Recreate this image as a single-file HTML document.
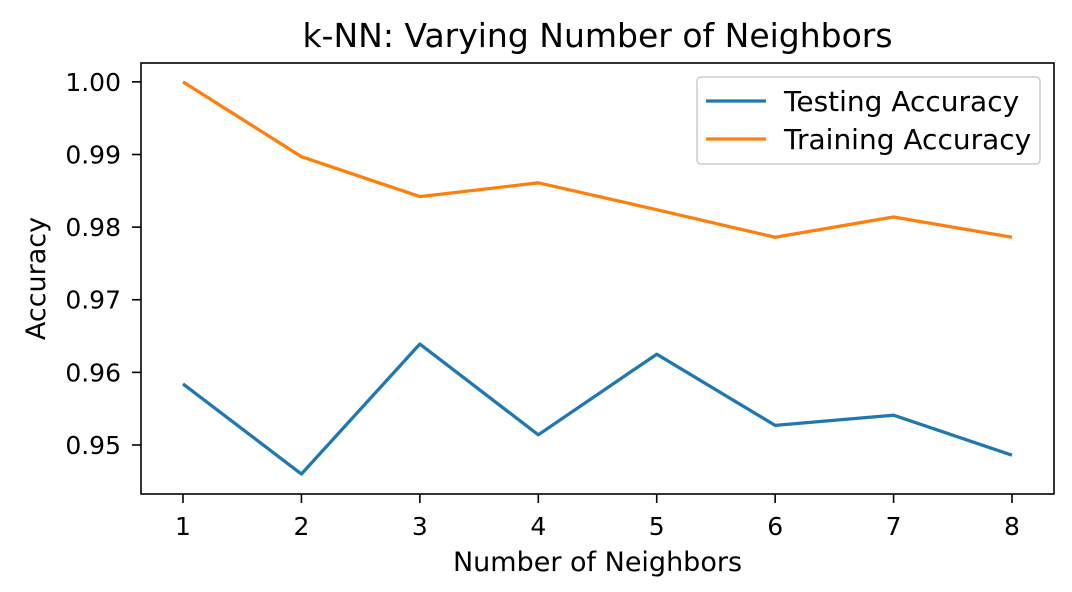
<!DOCTYPE html>
<html><head><meta charset="utf-8"><style>
html,body{margin:0;padding:0;background:#fff;}
svg{display:block;font-family:"DejaVu Sans","Liberation Sans",sans-serif;}
</style></head><body>
<svg id="chart" width="1072" height="592" viewBox="0 0 1072 592"></svg>
<script>
const categories = [1,2,3,4,5,6,7,8];
const testingAccuracy = [0.9584,0.9460,0.9639,0.9514,0.9625,0.9527,0.9541,0.9486];
const trainingAccuracy = [1.0000,0.9897,0.9842,0.9861,0.9824,0.9786,0.9814,0.9786];
const yTicks = [0.95,0.96,0.97,0.98,0.99,1.00];
const yTickLabels = ["0.95","0.96","0.97","0.98","0.99","1.00"];

const NS="http://www.w3.org/2000/svg";
const svg=document.getElementById('chart');
const L=141,R=1054,T=63,B=494;
const yMin=0.94325,yMax=1.0026;
const x=v=>183+(v-1)*(1012-183)/7;
const y=v=>B-(v-yMin)/(yMax-yMin)*(B-T);
function mk(tag,attrs,parent){const e=document.createElementNS(NS,tag);for(const k in attrs)e.setAttribute(k,attrs[k]);(parent||svg).appendChild(e);return e;}

const title=mk('text',{x:(L+R)/2,y:47,'text-anchor':'middle','font-size':33,fill:'#000'});
title.textContent='k-NN: Varying Number of Neighbors';



categories.forEach(c=>{
  const t=mk('line',{x1:x(c),x2:x(c),y1:B,y2:B+9,stroke:'#000','stroke-width':1.6});
  
  
  const l=mk('text',{x:x(c),y:535,'text-anchor':'middle','font-size':25});
  l.textContent=c;
  
  
});
yTicks.forEach((v,i)=>{
  const t=mk('line',{x1:L-9,x2:L,y1:y(v),y2:y(v),stroke:'#000','stroke-width':1.6});
  
  
  const l=mk('text',{x:L-20,y:y(v)+9,'text-anchor':'end','font-size':25});
  l.textContent=yTickLabels[i];
  
  
});
const xt=mk('text',{x:(L+R)/2,y:571,'text-anchor':'middle','font-size':27});
xt.textContent='Number of Neighbors';


const yt=mk('text',{x:0,y:0,'text-anchor':'middle','font-size':27,transform:`translate(45,${(T+B)/2}) rotate(-90)`});
yt.textContent='Accuracy';



function series(vals,color,name){
  const p=mk('polyline',{points:categories.map((c,i)=>x(c)+','+y(vals[i])).join(' '),fill:'none',stroke:color,'stroke-width':3.3,'stroke-linejoin':'round'});
  
  
}
series(testingAccuracy,'#1f77b4','testing-accuracy-line');
series(trainingAccuracy,'#ff7f0e','training-accuracy-line');

const frame=mk('rect',{x:L,y:T,width:R-L,height:B-T,fill:'none',stroke:'#000','stroke-width':1.6});



const lg=mk('g',{});


mk('rect',{x:697,y:77,width:343,height:87,rx:4,fill:'#fff','fill-opacity':0.8,stroke:'#ccc','stroke-width':1.5},lg);
[['Testing Accuracy','#1f77b4',101],['Training Accuracy','#ff7f0e',139]].forEach(([n,c,yy])=>{
  const g=mk('g',{},lg);
  
  
  mk('line',{x1:706,x2:766,y1:yy,y2:yy,stroke:c,'stroke-width':3.3},g);
  const t=mk('text',{x:784,y:yy+10,'font-size':28},g);
  t.textContent=n;
});
</script>
</body></html>
